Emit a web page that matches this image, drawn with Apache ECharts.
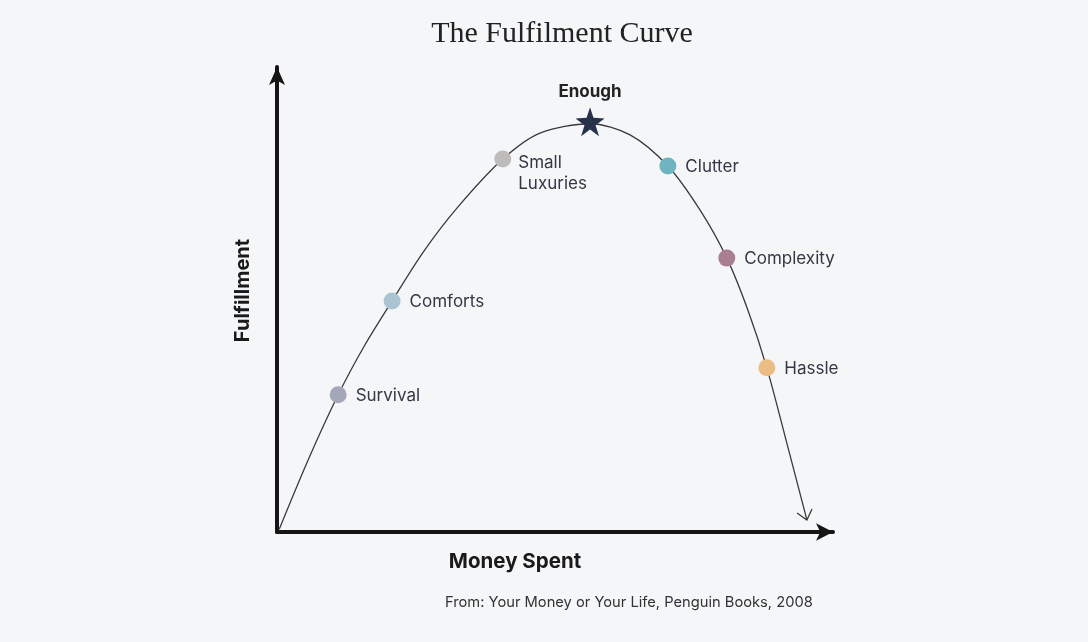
<!DOCTYPE html>
<html>
<head>
<meta charset="utf-8">
<script src="https://cdn.jsdelivr.net/npm/echarts@6/dist/echarts.min.js"></script>
<style>
html,body{margin:0;padding:0;background:#f5f6f8;}
#chart{width:1088px;height:642px;}
</style>
</head>
<body>
<div id="chart"></div>
<script>
// Curve path points (x: money spent, y: fulfilment, 0-100 scale)
const curveX = [0.4, 5.6, 11.0, 15.7, 20.7, 26.3, 32.4, 40.6, 47.3, 56.3, 63.5, 70.3, 76.1, 80.9, 84.7, 88.1, 91.7, 95.3];
const curveY = [0.6, 15.5, 29.5, 40.0, 49.7, 60.2, 69.7, 80.2, 85.8, 87.8, 85.4, 78.7, 69.2, 58.9, 47.7, 35.3, 19.1, 2.6];

// Labelled stages
const stageNames  = ['Survival', 'Comforts', 'Small\nLuxuries', 'Clutter', 'Complexity', 'Hassle'];
const stageX      = [11.0, 20.7, 40.6, 70.3, 80.9, 88.1];
const stageY      = [29.5, 49.7, 80.2, 78.7, 58.9, 35.3];
const stageColors = ['#a4a7b7', '#abc4d2', '#bdbcba', '#6fb4c0', '#a97f8f', '#ebbc84'];

// Peak
const peakName = 'Enough';
const peakX = 56.3;
const peakY = 88.2;

const chartTitle = 'The Fulfilment Curve';
const xName = 'Money Spent';
const yName = 'Fulfillment';
const sourceNote = 'From: Your Money or Your Life, Penguin Books, 2008';

const curveData = curveX.map((x, i) => [x, curveY[i]]);
const n = curveX.length;
const arrowData = [[curveX[n - 1], curveY[n - 1], curveX[n - 2], curveY[n - 2]]];

const stageData = stageNames.map((name, i) => {
  const item = {
    name: name,
    value: [stageX[i], stageY[i]],
    itemStyle: { color: stageColors[i] }
  };
  if (name.indexOf('\n') >= 0) {
    item.label = { offset: [0, 14], distance: 7 };
  }
  return item;
});

const FONT = 'Inter, "Noto Sans", sans-serif';

const chart = echarts.init(document.getElementById('chart'));
chart.setOption({
  backgroundColor: '#f5f6f8',
  animation: false,
  graphic: [
    {
      type: 'text', x: 562, y: 19,
      style: { text: chartTitle, align: 'center', font: 'normal 30px "Liberation Serif", "DejaVu Serif", serif', fill: '#222' }
    },
    {
      type: 'text', x: 445, y: 595,
      style: { text: sourceNote, font: 'normal 14.7px ' + FONT, fill: '#333' }
    }
  ],
  grid: { left: 277, top: 67, width: 556, height: 465, containLabel: false },
  xAxis: {
    type: 'value', min: 0, max: 100,
    name: xName, nameLocation: 'middle', nameGap: 19,
    nameTextStyle: { fontFamily: FONT, fontSize: 20.5, fontWeight: 'bold', color: '#1a1a1a', padding: [0, 80, 0, 0] },
    axisLine: { show: true, symbol: ['none', 'arrow'], symbolSize: [13, 17],
      lineStyle: { color: '#151515', width: 4 } },
    axisTick: { show: false }, axisLabel: { show: false }, splitLine: { show: false }
  },
  yAxis: {
    type: 'value', min: 0, max: 100,
    name: yName, nameLocation: 'middle', nameGap: 24,
    nameTextStyle: { fontFamily: FONT, fontSize: 20, fontWeight: 'bold', color: '#1a1a1a', padding: [0, 0, 0, 18] },
    axisLine: { show: true, symbol: ['none', 'arrow'], symbolSize: [12, 18],
      lineStyle: { color: '#151515', width: 4 } },
    axisTick: { show: false }, axisLabel: { show: false }, splitLine: { show: false }
  },
  series: [
    {
      type: 'line', data: curveData, smooth: 0.3, showSymbol: false,
      lineStyle: { color: '#3a3a3a', width: 1.3 }, silent: true, z: 2
    },
    {
      type: 'custom', data: arrowData, z: 3, silent: true,
      renderItem: function (params, api) {
        const p = api.coord([api.value(0), api.value(1)]);
        const q = api.coord([api.value(2), api.value(3)]);
        let dx = p[0] - q[0], dy = p[1] - q[1];
        const len = Math.sqrt(dx * dx + dy * dy);
        dx /= len; dy /= len;
        const L = 12, ang = 40 * Math.PI / 180;
        const bx = -dx, by = -dy;
        const a1 = [p[0] + L * (bx * Math.cos(ang) - by * Math.sin(ang)), p[1] + L * (bx * Math.sin(ang) + by * Math.cos(ang))];
        const a2 = [p[0] + L * (bx * Math.cos(-ang) - by * Math.sin(-ang)), p[1] + L * (bx * Math.sin(-ang) + by * Math.cos(-ang))];
        return {
          type: 'polyline',
          shape: { points: [a1, p, a2] },
          style: { stroke: '#3a3a3a', lineWidth: 1.3, fill: null }
        };
      }
    },
    {
      type: 'scatter', data: stageData, symbolSize: 17, z: 4,
      itemStyle: { opacity: 1 },
      label: {
        show: true, position: 'right', distance: 9, offset: [0, 1],
        formatter: '{b}', fontFamily: FONT, fontSize: 17, color: '#363644', lineHeight: 21
      }
    },
    {
      type: 'scatter', data: [{ name: peakName, value: [peakX, peakY] }],
      symbol: 'path://M50,0 L61.8,36.2 L100,38.2 L69.1,61.8 L80.9,100 L50,76.4 L19.1,100 L30.9,61.8 L0,38.2 L38.2,36.2 Z',
      symbolSize: 29, z: 5,
      itemStyle: { color: '#27324a', opacity: 1 },
      label: {
        show: true, position: 'top', distance: 7, formatter: '{b}',
        fontFamily: FONT, fontSize: 17, fontWeight: 'bold', color: '#222'
      }
    }
  ]
});
</script>
</body>
</html>
